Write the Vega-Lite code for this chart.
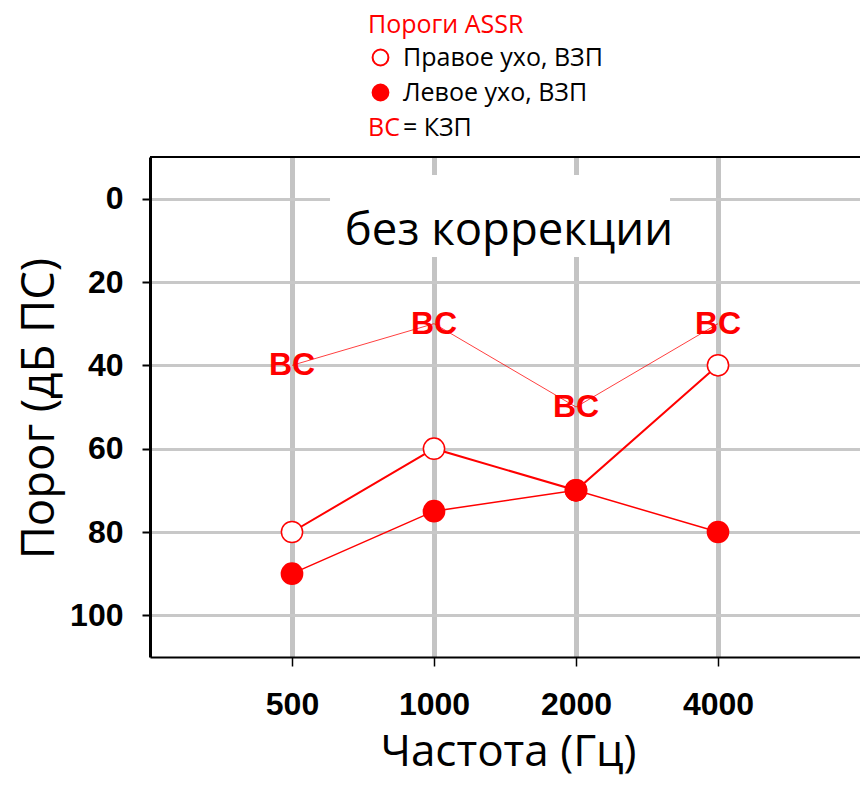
{
  "$schema": "https://vega.github.io/schema/vega-lite/v6.json",
  "width": 710,
  "height": 500,
  "autosize": {"type": "none"},
  "padding": {"left": 150, "top": 157, "right": 0, "bottom": 138},
  "background": "white",
  "config": {"view": {"stroke": null}, "font": "Open Sans"},
  "data": {
    "values": [
      {"freq": 500, "db": 80, "series": "Правое ухо, ВЗП"},
      {"freq": 1000, "db": 60, "series": "Правое ухо, ВЗП"},
      {"freq": 2000, "db": 70, "series": "Правое ухо, ВЗП"},
      {"freq": 4000, "db": 40, "series": "Правое ухо, ВЗП"},
      {"freq": 500, "db": 90, "series": "Левое ухо, ВЗП"},
      {"freq": 1000, "db": 75, "series": "Левое ухо, ВЗП"},
      {"freq": 2000, "db": 70, "series": "Левое ухо, ВЗП"},
      {"freq": 4000, "db": 80, "series": "Левое ухо, ВЗП"},
      {"freq": 500, "db": 40, "series": "BC"},
      {"freq": 1000, "db": 30, "series": "BC"},
      {"freq": 2000, "db": 50, "series": "BC"},
      {"freq": 4000, "db": 30, "series": "BC"}
    ]
  },
  "layer": [
    {
      "transform": [{"filter": "datum.series === 'Правое ухо, ВЗП'"}],
      "mark": {"type": "line", "color": "red", "strokeWidth": 2},
      "encoding": {
        "x": {
          "field": "freq", "type": "quantitative",
          "scale": {"type": "log", "base": 2, "domain": [250, 8000], "nice": false},
          "axis": {
            "values": [500, 1000, 2000, 4000], "format": "d",
            "title": "Частота (Гц)",
            "grid": true, "gridColor": "#c4c4c4", "gridWidth": 5,
            "domainColor": "black", "domainWidth": 2,
            "tickColor": "black", "tickSize": 9, "tickWidth": 1.5,
            "labelFont": "Liberation Sans", "labelFontSize": 32, "labelFontWeight": "bold",
            "labelColor": "black", "labelPadding": 23, "labelFlush": false, "labelOverlap": false,
            "titleFont": "Open Sans", "titleFontSize": 44, "titleFontWeight": "normal",
            "titleColor": "black", "titleBaseline": "alphabetic", "titleY": 108, "titleX": 358
          }
        },
        "y": {
          "field": "db", "type": "quantitative",
          "scale": {"domain": [-10, 110], "reverse": true, "nice": false, "zero": false},
          "axis": {
            "values": [0, 20, 40, 60, 80, 100],
            "title": "Порог (дБ ПС)",
            "grid": true, "gridColor": "#c8c8c8", "gridWidth": 3,
            "domainColor": "black", "domainWidth": 3,
            "tickColor": "black", "tickSize": 8, "tickWidth": 2,
            "labelFont": "Liberation Sans", "labelFontSize": 32, "labelFontWeight": "bold",
            "labelColor": "black", "labelPadding": 19,
            "titleFont": "Open Sans", "titleFontSize": 45.5, "titleFontWeight": "normal",
            "titleColor": "black", "titleBaseline": "alphabetic", "titleAngle": -90,
            "titleX": -97, "titleY": 251
          }
        }
      }
    },
    {
      "transform": [{"filter": "datum.series === 'Левое ухо, ВЗП'"}],
      "mark": {"type": "line", "color": "red", "strokeWidth": 1.5},
      "encoding": {
        "x": {"field": "freq", "type": "quantitative"},
        "y": {"field": "db", "type": "quantitative"}
      }
    },
    {
      "transform": [{"filter": "datum.series === 'BC'"}],
      "mark": {"type": "line", "color": "red", "strokeWidth": 1, "opacity": 0.75},
      "encoding": {
        "x": {"field": "freq", "type": "quantitative"},
        "y": {"field": "db", "type": "quantitative"}
      }
    },
    {
      "transform": [{"filter": "datum.series !== 'BC'"}],
      "mark": {"type": "circle", "size": 450, "strokeWidth": 1.5, "opacity": 1},
      "encoding": {
        "x": {"field": "freq", "type": "quantitative"},
        "y": {"field": "db", "type": "quantitative"},
        "fill": {
          "field": "series", "type": "nominal",
          "scale": {"domain": ["Правое ухо, ВЗП", "Левое ухо, ВЗП", "= КЗП"], "range": ["white", "red", "transparent"]},
          "legend": {
            "orient": "none", "legendX": 218, "legendY": -144,
            "title": "Пороги ASSR", "titleColor": "red", "titleFont": "Open Sans",
            "titleFontSize": 25, "titleFontWeight": "normal", "titlePadding": 7, "titleLimit": 400,
            "labelFont": "Open Sans", "labelFontSize": 25, "labelColor": "black",
            "labelLimit": 400, "labelOffset": 10,
            "symbolType": "circle", "symbolSize": 250, "symbolStrokeWidth": 2,
            "rowPadding": 9, "padding": 0
          }
        },
        "stroke": {
          "field": "series", "type": "nominal",
          "scale": {"domain": ["Правое ухо, ВЗП", "Левое ухо, ВЗП", "= КЗП"], "range": ["red", "red", "transparent"]},
          "legend": {
            "orient": "none", "legendX": 218, "legendY": -144,
            "title": "Пороги ASSR", "titleColor": "red", "titleFont": "Open Sans",
            "titleFontSize": 25, "titleFontWeight": "normal", "titlePadding": 7, "titleLimit": 400,
            "labelFont": "Open Sans", "labelFontSize": 25, "labelColor": "black",
            "labelLimit": 400, "labelOffset": 10,
            "symbolType": "circle", "symbolSize": 250, "symbolStrokeWidth": 2,
            "rowPadding": 9, "padding": 0
          }
        }
      }
    },
    {
      "transform": [{"filter": "datum.series === 'BC'"}],
      "mark": {"type": "text", "font": "Liberation Sans", "fontSize": 32, "fontWeight": "bold", "baseline": "middle", "align": "center"},
      "encoding": {
        "x": {"field": "freq", "type": "quantitative"},
        "y": {"field": "db", "type": "quantitative"},
        "text": {"field": "series"},
        "color": {
          "field": "series", "type": "nominal",
          "scale": {"domain": ["BC"], "range": ["red"]},
          "legend": {
            "orient": "none", "legendX": 193, "legendY": -42, "title": null,
            "labelFont": "Open Sans", "labelFontSize": 25, "labelColor": "red",
            "symbolSize": 0, "symbolOpacity": 0, "labelOffset": 0, "padding": 0
          }
        }
      }
    },
    {
      "data": {"values": [{}]},
      "mark": {"type": "rect", "color": "white"},
      "encoding": {
        "x": {"datum": 602}, "x2": {"datum": 3165},
        "y": {"datum": -5.7}, "y2": {"datum": 14}
      }
    },
    {
      "data": {"values": [{}]},
      "mark": {"type": "text", "text": "без коррекции", "font": "Open Sans", "fontSize": 45.5, "baseline": "alphabetic", "align": "center", "color": "black"},
      "encoding": {"x": {"datum": 1442}, "y": {"datum": 11.1}}
    },
    {
      "data": {"values": [{}]},
      "mark": {"type": "rule", "color": "black", "strokeWidth": 2},
      "encoding": {"y": {"datum": -10}}
    }
  ]
}
